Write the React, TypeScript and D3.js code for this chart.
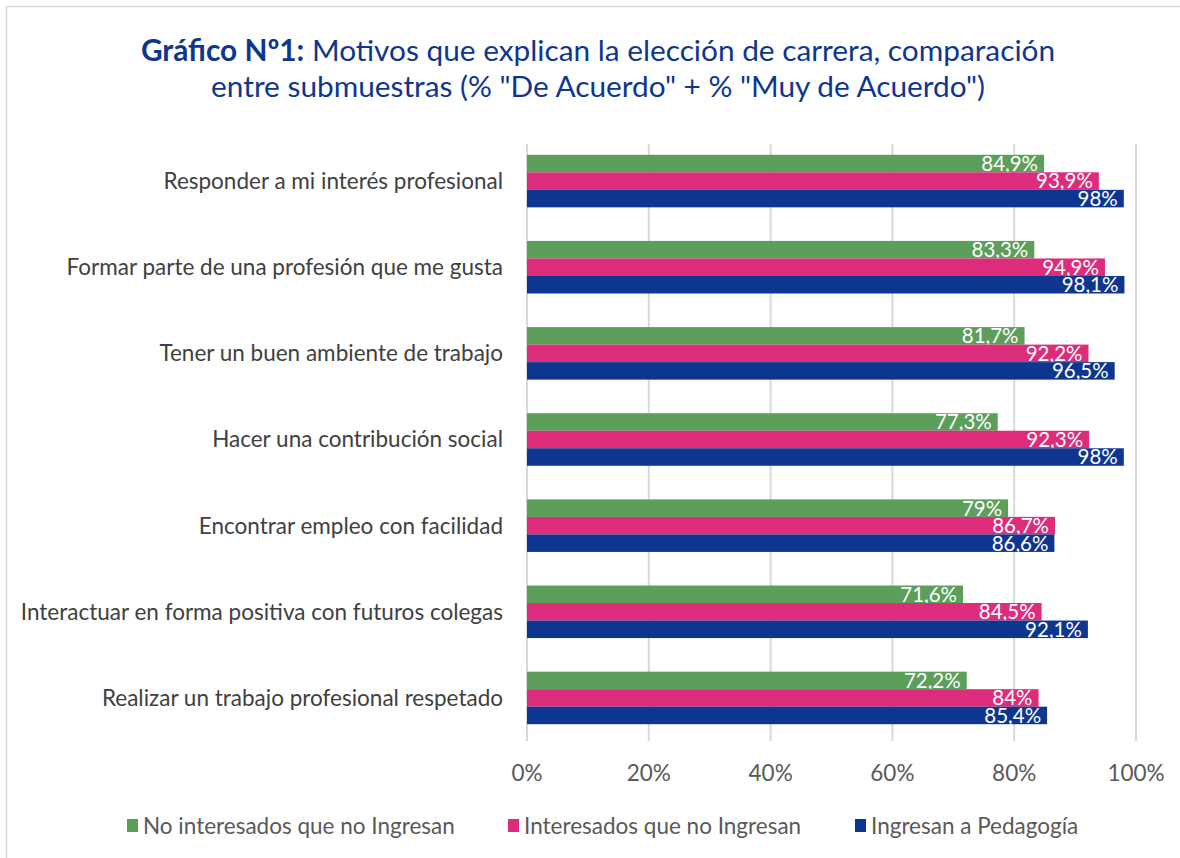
import React from "react";
import * as d3 from "d3";

const categories = [
  "Responder a mi interés profesional",
  "Formar parte de una profesión que me gusta",
  "Tener un buen ambiente de trabajo",
  "Hacer una contribución social",
  "Encontrar empleo con facilidad",
  "Interactuar en forma positiva con futuros colegas",
  "Realizar un trabajo profesional respetado",
];

const seriesNames = [
  "No interesados que no Ingresan",
  "Interesados que no Ingresan",
  "Ingresan a Pedagogía",
];

const noInteresados = [84.9, 83.3, 81.7, 77.3, 79, 71.6, 72.2];
const interesados = [93.9, 94.9, 92.2, 92.3, 86.7, 84.5, 84];
const ingresan = [98, 98.1, 96.5, 98, 86.6, 92.1, 85.4];

const xTicks = [0, 20, 40, 60, 80, 100];

const colors = ["#5B9F5B", "#DE2C7D", "#0E368F"];
const FONT = "Lato, 'Open Sans', sans-serif";

export default function App() {
  const W = 1180;
  const H = 858;
  const left = 527;
  const right = 1136;
  const top = 138;
  const bottom = 741;

  const x = d3.scaleLinear().domain([0, 100]).range([left, right]);
  const y = d3.scaleBand<string>().domain(categories).range([top, bottom]).paddingInner(0.39).paddingOuter(0.195);
  const series = [noInteresados, interesados, ingresan];
  const sub = d3.scaleBand<number>().domain([0, 1, 2]).range([0, y.bandwidth()]);

  const fmt = (v: number) => String(v).replace(".", ",") + "%";

  const legendItems = [
    { x: 127, label: seriesNames[0] },
    { x: 508, label: seriesNames[1] },
    { x: 855, label: seriesNames[2] },
  ];

  return (
    <svg width={W} height={H} style={{ position: "absolute", left: 0, top: 0, background: "#fff" }} fontFamily={FONT}>
      <rect x={6.5} y={6.5} width={W} height={H} fill="#fff" stroke="#D9D9D9" strokeWidth={1.5} />
      <text x={598} y={61} textAnchor="middle" fontSize={29.8} fill="#0E368F">
        <tspan fontWeight="bold">Gráfico Nº1:</tspan>
        <tspan> Motivos que explican la elección de carrera, comparación</tspan>
      </text>
      <text x={598} y={97} textAnchor="middle" fontSize={29.8} fill="#0E368F">
        entre submuestras (% "De Acuerdo" + % "Muy de Acuerdo")
      </text>

      {xTicks.map((t) => (
        <g key={t}>
          <line x1={x(t)} x2={x(t)} y1={top + 6} y2={bottom} stroke="#D9D9D9" strokeWidth={2} />
          <text x={x(t)} y={773} dy="0.35em" textAnchor="middle" fontSize={22.5} fill="#595959">
            {t}%
          </text>
        </g>
      ))}

      {categories.map((c, i) => (
        <g key={c}>
          <text
            x={503}
            y={(y(c) as number) + y.bandwidth() / 2}
            dy="0.35em"
            textAnchor="end"
            fontSize={22.5}
            fill="#404040"
          >
            {c}
          </text>
          {series.map((s, j) => {
            const by = (y(c) as number) + (sub(j) as number);
            const bh = sub.bandwidth();
            return (
              <g key={j}>
                <rect x={x(0)} y={by} width={x(s[i]) - x(0)} height={bh} fill={colors[j]} />
                <text
                  x={x(s[i]) - 6}
                  y={by + bh / 2}
                  dy="0.36em"
                  textAnchor="end"
                  fontSize={20.5}
                  fill="#fff"
                >
                  {fmt(s[i])}
                </text>
              </g>
            );
          })}
        </g>
      ))}

      {legendItems.map((l, i) => (
        <g key={l.label}>
          <rect x={l.x} y={819} width={11} height={13} fill={colors[i]} />
          <text x={l.x + 16} y={826} dy="0.35em" fontSize={22.5} fill="#595959">
            {l.label}
          </text>
        </g>
      ))}
    </svg>
  );
}
